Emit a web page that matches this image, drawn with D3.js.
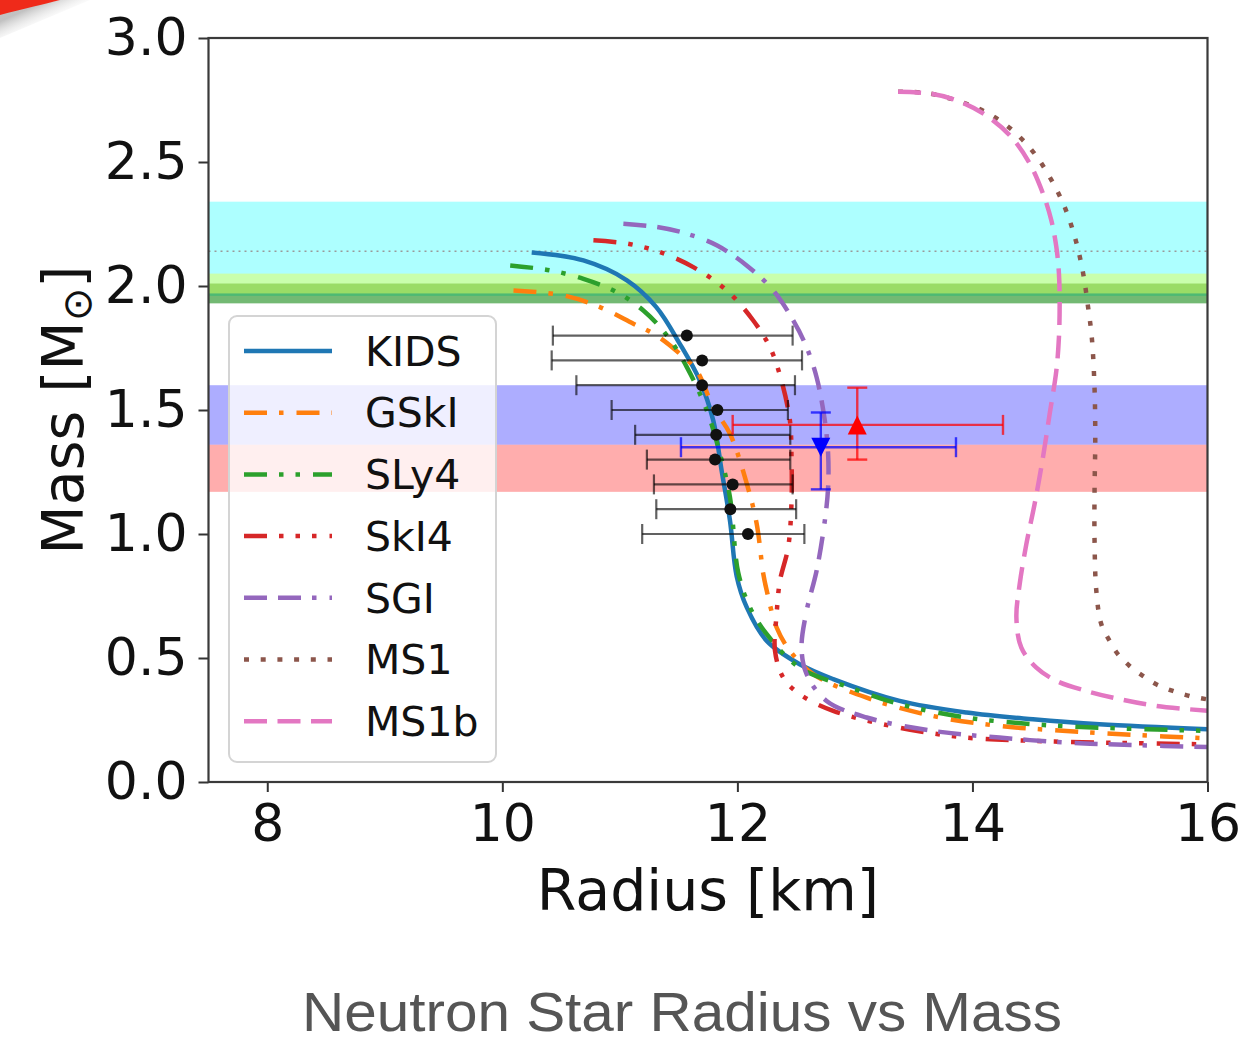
<!DOCTYPE html>
<html>
<head>
<meta charset="utf-8">
<script src="https://cdn.jsdelivr.net/npm/d3@7"></script>
<style>
body { margin: 0; background: #fff; }
svg { display: block; }
</style>
</head>
<body>
<svg id="main"></svg>
<script>
// mass-radius curves, each point is [radius km, mass Msun]
const kids = [[10.25,2.135],[10.69,2.103],[11.06,2.023],[11.31,1.915],[11.51,1.767],[11.68,1.619],[11.795,1.457],[11.866,1.256],[11.937,1.054],[11.994,0.83],[12.08,0.704],[12.25,0.569],[12.53,0.475],[12.815,0.415],[13.38,0.327],[13.95,0.28],[14.515,0.253],[15.08,0.233],[16.0,0.213]]
const gski = [[10.095,1.982],[10.52,1.962],[10.83,1.915],[11.115,1.848],[11.31,1.801],[11.51,1.727],[11.654,1.659],[11.795,1.511],[11.937,1.404],[12.08,1.203],[12.164,1.042],[12.22,0.84],[12.25,0.771],[12.334,0.623],[12.447,0.529],[12.645,0.435],[13.1,0.34],[13.665,0.266],[14.23,0.226],[14.8,0.206],[15.365,0.19],[16.0,0.176]]
const sly4 = [[10.067,2.083],[10.407,2.063],[10.69,2.029],[10.974,1.975],[11.2,1.901],[11.4,1.801],[11.57,1.673],[11.74,1.498],[11.852,1.323],[11.937,1.148],[12.007,0.845],[12.107,0.704],[12.25,0.596],[12.53,0.461],[12.957,0.381],[13.38,0.314],[13.95,0.26],[14.515,0.233],[15.08,0.219],[16.0,0.206]]
const ski4 = [[10.775,2.184],[11.06,2.171],[11.34,2.137],[11.625,2.076],[11.91,1.982],[12.135,1.861],[12.277,1.753],[12.376,1.617],[12.447,1.457],[12.46,1.323],[12.46,1.121],[12.432,0.946],[12.362,0.811],[12.334,0.677],[12.32,0.529],[12.39,0.421],[12.53,0.354],[12.815,0.287],[13.38,0.219],[13.95,0.179],[14.515,0.166],[15.08,0.159],[16.0,0.152]]
const sgi = [[11.03,2.251],[11.314,2.238],[11.569,2.211],[11.824,2.164],[12.079,2.083],[12.305,1.982],[12.475,1.861],[12.589,1.753],[12.674,1.632],[12.744,1.457],[12.772,1.323],[12.772,1.188],[12.744,1.054],[12.674,0.852],[12.589,0.69],[12.546,0.542],[12.589,0.435],[12.759,0.327],[13.1,0.26],[13.665,0.206],[14.23,0.179],[14.8,0.159],[15.365,0.149],[16.0,0.141]]
const ms1 = [[13.367,2.783],[13.637,2.776],[14.047,2.716],[14.289,2.648],[14.501,2.55],[14.657,2.44],[14.784,2.319],[14.875,2.191],[14.94,2.056],[14.982,1.922],[15.016,1.79],[15.039,1.585],[15.045,1.384],[15.039,1.175],[15.039,0.973],[15.054,0.771],[15.096,0.637],[15.167,0.569],[15.237,0.516],[15.337,0.468],[15.45,0.428],[15.564,0.394],[15.705,0.367],[15.847,0.347],[16.0,0.333]]
const ms1b = [[13.367,2.783],[13.637,2.776],[13.864,2.749],[14.09,2.696],[14.317,2.608],[14.487,2.494],[14.6,2.373],[14.671,2.265],[14.714,2.157],[14.736,2.05],[14.742,1.929],[14.736,1.794],[14.714,1.659],[14.657,1.484],[14.6,1.309],[14.529,1.121],[14.459,0.96],[14.402,0.798],[14.374,0.663],[14.416,0.542],[14.544,0.461],[14.714,0.408],[14.969,0.367],[15.252,0.334],[15.564,0.307],[16.0,0.287]]

const curveNames = ['KIDS', 'GSkI', 'SLy4', 'SkI4', 'SGI', 'MS1', 'MS1b']
const curves = [kids, gski, sly4, ski4, sgi, ms1, ms1b]

// observed mass bands [low, high]
const bandLo = [1.96, 1.93, 1.97, 1.36, 1.17]
const bandHi = [2.34, 2.01, 2.05, 1.60, 1.36]
const bandLine = 2.14

// black points with radius error bars
const obsR = [11.57, 11.70, 11.70, 11.83, 11.82, 11.81, 11.96, 11.94, 12.09]
const obsM = [1.80, 1.70, 1.60, 1.50, 1.40, 1.30, 1.20, 1.10, 1.00]
const obsRlo = [10.43, 10.42, 10.63, 10.93, 11.13, 11.23, 11.29, 11.31, 11.19]
const obsRhi = [12.47, 12.55, 12.49, 12.43, 12.45, 12.45, 12.47, 12.50, 12.57]

// NICER points (red up triangle, blue down triangle)
const nicerR = [13.02, 12.71]
const nicerRlo = [11.96, 11.52]
const nicerRhi = [14.26, 13.86]
const nicerM = [1.44, 1.35]
const nicerMlo = [1.30, 1.18]
const nicerMhi = [1.59, 1.49]

const xTicks = [8, 10, 12, 14, 16]
const yTicks = [0, 0.5, 1.0, 1.5, 2.0, 2.5, 3.0]

// styles
const curveColors = ['#1f77b4', '#ff7f0e', '#2ca02c', '#d62728', '#9467bd', '#8c564b', '#e377c2']
const curveDashes = [null, '23,12,4.5,13', '23,12,4.5,12,4.5,13', '23,12,4.5,12,4.5,12,4.5,13', '23,11,23,11,4.5,13', '5,11.7', '23,10.5']
const bandColors = ['rgba(0,255,255,0.32)', 'rgba(0,128,0,0.55)', 'rgba(230,255,90,0.5)', 'rgba(0,0,255,0.32)', 'rgba(255,0,0,0.32)']
const nicerColors = ['#ff0000', '#0000ff']

let width = 1241
let height = 1044
let plotLeft = 208.5, plotRight = 1207.5, plotTop = 38, plotBottom = 782

let xScale
let yScale

let svg = d3.select('#main')

const drawCanvas = () => {
    svg.attr('width', width)
    svg.attr('height', height)

    // red corner scrap with shadow
    let defs = svg.append('defs')
    let grad = defs.append('linearGradient')
        .attr('id', 'shade')
        .attr('gradientUnits', 'userSpaceOnUse')
        .attr('x1', 30).attr('y1', 8).attr('x2', 40).attr('y2', 30)
    grad.append('stop').attr('offset', 0).attr('stop-color', '#999').attr('stop-opacity', 0.6)
    grad.append('stop').attr('offset', 1).attr('stop-color', '#fff').attr('stop-opacity', 0)
    svg.append('path')
        .attr('d', 'M0,12 L60,0 L90,0 L0,38 Z')
        .attr('fill', 'url(#shade)')
    svg.append('path')
        .attr('d', 'M0,0 L60,0 C45,4 22,9 0,15 Z')
        .attr('fill', '#ef2a1a')

    defs.append('clipPath')
        .attr('id', 'plotclip')
        .append('rect')
        .attr('x', plotLeft).attr('y', plotTop)
        .attr('width', plotRight - plotLeft).attr('height', plotBottom - plotTop)
}

const generateScales = () => {
    xScale = d3.scaleLinear()
        .domain([7.5, 16])
        .range([plotLeft, plotRight])

    yScale = d3.scaleLinear()
        .domain([0, 3])
        .range([plotBottom, plotTop])
}

const plotBands = () => {
    let g = svg.append('g').attr('clip-path', 'url(#plotclip)')
    g.selectAll('rect')
        .data(bandLo)
        .enter()
        .append('rect')
        .attr('x', plotLeft)
        .attr('width', plotRight - plotLeft)
        .attr('y', (d, i) => yScale(bandHi[i]))
        .attr('height', (d, i) => yScale(d) - yScale(bandHi[i]))
        .attr('fill', (d, i) => bandColors[i])

    g.append('line')
        .attr('x1', plotLeft).attr('x2', plotRight)
        .attr('y1', yScale(bandLine)).attr('y2', yScale(bandLine))
        .attr('stroke', '#9a9a9a')
        .attr('stroke-width', 1.5)
        .attr('stroke-dasharray', '2,4')
}

const plotCurves = () => {
    let line = d3.line()
        .x(d => xScale(d[0]))
        .y(d => yScale(d[1]))
        .curve(d3.curveCatmullRom.alpha(0.5))

    svg.append('g')
        .attr('clip-path', 'url(#plotclip)')
        .selectAll('path')
        .data(curves)
        .enter()
        .append('path')
        .attr('d', line)
        .attr('fill', 'none')
        .attr('stroke', (d, i) => curveColors[i])
        .attr('stroke-width', 4.5)
        .attr('stroke-dasharray', (d, i) => curveDashes[i])
}

const plotErrorBars = () => {
    let cap = 10
    let g = svg.append('g')
    obsR.forEach((r, i) => {
        let y = yScale(obsM[i])
        let bar = g.append('g')
            .attr('stroke', '#000')
            .attr('stroke-opacity', 0.62)
            .attr('stroke-width', 2.2)
        bar.append('line')
            .attr('x1', xScale(obsRlo[i])).attr('x2', xScale(obsRhi[i]))
            .attr('y1', y).attr('y2', y)
        bar.append('line')
            .attr('x1', xScale(obsRlo[i])).attr('x2', xScale(obsRlo[i]))
            .attr('y1', y - cap).attr('y2', y + cap)
        bar.append('line')
            .attr('x1', xScale(obsRhi[i])).attr('x2', xScale(obsRhi[i]))
            .attr('y1', y - cap).attr('y2', y + cap)
        g.append('circle')
            .attr('cx', xScale(r)).attr('cy', y)
            .attr('r', 6)
            .attr('fill', '#111')
    })

    nicerR.forEach((r, i) => {
        let x = xScale(r)
        let y = yScale(nicerM[i])
        let bar = g.append('g')
            .attr('stroke', nicerColors[i])
            .attr('stroke-opacity', 0.72)
            .attr('stroke-width', 2.4)
        bar.append('line')
            .attr('x1', xScale(nicerRlo[i])).attr('x2', xScale(nicerRhi[i]))
            .attr('y1', y).attr('y2', y)
        bar.append('line')
            .attr('x1', x).attr('x2', x)
            .attr('y1', yScale(nicerMhi[i])).attr('y2', yScale(nicerMlo[i]))
        ;[nicerRlo[i], nicerRhi[i]].forEach(v => {
            bar.append('line')
                .attr('x1', xScale(v)).attr('x2', xScale(v))
                .attr('y1', y - cap).attr('y2', y + cap)
        })
        ;[nicerMlo[i], nicerMhi[i]].forEach(v => {
            bar.append('line')
                .attr('x1', x - cap).attr('x2', x + cap)
                .attr('y1', yScale(v)).attr('y2', yScale(v))
        })
        let s = 9.5
        let tri = i == 0
            ? `M${x},${y - s}L${x + s},${y + s}L${x - s},${y + s}Z`
            : `M${x},${y + s}L${x + s},${y - s}L${x - s},${y - s}Z`
        g.append('path')
            .attr('d', tri)
            .attr('fill', nicerColors[i])
    })
}

const drawLegend = () => {
    let lg = svg.append('g')
    lg.append('rect')
        .attr('x', 229).attr('y', 316)
        .attr('width', 267).attr('height', 446)
        .attr('rx', 8)
        .attr('fill', '#fff')
        .attr('fill-opacity', 0.8)
        .attr('stroke', '#d4d4d4')
        .attr('stroke-width', 2)

    let rows = lg.selectAll('g.row')
        .data(curveNames)
        .enter()
        .append('g')
        .attr('class', 'row')
        .attr('transform', (d, i) => `translate(0, ${351 + i * 61.7})`)
    rows.append('line')
        .attr('x1', 244).attr('x2', 332)
        .attr('stroke', (d, i) => curveColors[i])
        .attr('stroke-width', 4.5)
        .attr('stroke-dasharray', (d, i) => curveDashes[i])
    rows.append('text')
        .attr('x', 365)
        .attr('dy', '0.36em')
        .attr('font-family', 'DejaVu Sans')
        .attr('font-size', 41)
        .attr('fill', '#111')
        .text(d => d)
}

const generateAxis = () => {
    let xAxis = d3.axisBottom(xScale)
        .tickValues(xTicks)
        .tickSize(10)
        .tickPadding(12)
        .tickFormat(d3.format('d'))
    let gx = svg.append('g')
        .call(xAxis)
        .attr('id', 'x-axis')
        .attr('transform', `translate(0, ${plotBottom})`)

    let yAxis = d3.axisLeft(yScale)
        .tickValues(yTicks)
        .tickSize(10)
        .tickPadding(11)
        .tickFormat(d3.format('.1f'))
    let gy = svg.append('g')
        .call(yAxis)
        .attr('id', 'y-axis')
        .attr('transform', `translate(${plotLeft}, 0)`)

    ;[gx, gy].forEach(g => {
        g.select('.domain').remove()
        g.selectAll('line').attr('stroke', '#333').attr('stroke-width', 2)
        g.selectAll('text')
            .attr('font-family', 'DejaVu Sans')
            .attr('font-size', 52)
            .attr('fill', '#111')
    })

    svg.append('rect')
        .attr('x', plotLeft).attr('y', plotTop)
        .attr('width', plotRight - plotLeft).attr('height', plotBottom - plotTop)
        .attr('fill', 'none')
        .attr('stroke', '#3a3a3a')
        .attr('stroke-width', 2.2)

    svg.append('text')
        .attr('x', (plotLeft + plotRight) / 2)
        .attr('y', 910)
        .attr('text-anchor', 'middle')
        .attr('font-family', 'DejaVu Sans')
        .attr('font-size', 57)
        .attr('fill', '#111')
        .text('Radius [km]')

    let ylab = svg.append('text')
        .attr('transform', `translate(83, ${(plotTop + plotBottom) / 2}) rotate(-90)`)
        .attr('text-anchor', 'middle')
        .attr('font-family', 'DejaVu Sans')
        .attr('font-size', 57)
        .attr('fill', '#111')
    ylab.append('tspan').text('Mass [M')
    ylab.append('tspan').attr('font-size', 40).attr('dy', 8).text('\u2299')
    ylab.append('tspan').attr('dy', -8).text(']')

    svg.append('text')
        .attr('x', 682)
        .attr('y', 1031)
        .attr('text-anchor', 'middle')
        .attr('font-family', 'Liberation Sans, Arial, sans-serif')
        .attr('font-size', 56)
        .attr('fill', '#555')
        .attr('textLength', 760)
        .attr('lengthAdjust', 'spacingAndGlyphs')
        .text('Neutron Star Radius vs Mass')
}

drawCanvas()
generateScales()
plotBands()
plotCurves()
plotErrorBars()
drawLegend()
generateAxis()
</script>
</body>
</html>
